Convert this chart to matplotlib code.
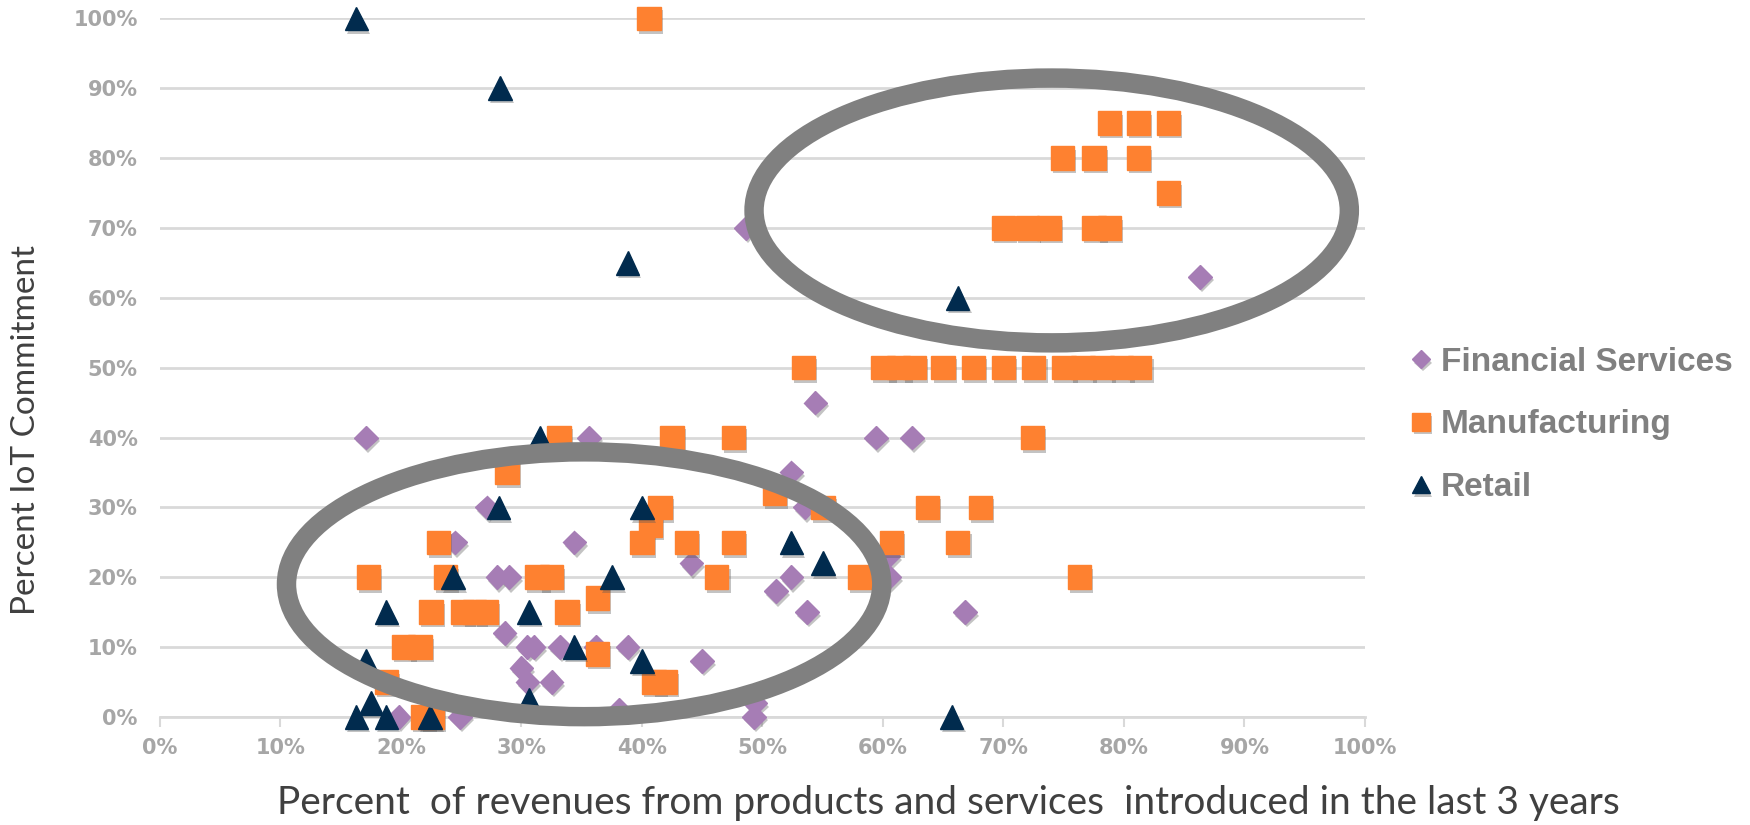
import numpy as np
import matplotlib
matplotlib.use("Agg")
import matplotlib.pyplot as plt
from matplotlib.patches import Ellipse
from matplotlib.ticker import FuncFormatter
import matplotlib.patheffects as pe

# percent of revenues from new products (x) vs percent IoT commitment (y)
fin_x = [17.1, 35.6, 27.1, 24.5, 34.4, 28.0, 29.0, 28.6, 30.5, 31.0, 33.2, 36.2,
         30.0, 30.5, 32.5, 19.8, 24.9, 54.4, 59.4, 62.4, 52.4, 53.5, 44.1, 60.4,
         60.5, 52.4, 51.1, 53.7, 38.8, 45.0, 38.1, 49.4, 49.3, 66.8, 48.6, 86.3]
fin_y = [40, 40, 30, 25, 25, 20, 20, 12, 10, 10, 10, 10,
         7, 5, 5, 0, 0, 45, 40, 40, 35, 30, 22, 23,
         20, 20, 18, 15, 10, 8, 1, 2, 0, 15, 70, 63]

mfg_x = [40.6, 78.8, 81.2, 83.7, 74.9, 77.5, 81.2, 83.7,
         70.0, 72.0, 73.8, 77.5, 78.8,
         53.4, 60.0, 61.3, 62.6, 65.0, 67.5, 70.0, 72.5, 75.0, 76.6, 78.2, 79.8, 81.3,
         33.1, 42.5, 47.6, 72.4, 28.8, 51.0, 55.0, 63.7, 68.1, 41.5, 40.7,
         23.1, 40.0, 43.7, 47.6, 60.7, 66.2,
         17.3, 23.7, 31.3, 32.5, 46.2, 58.1, 76.3, 36.3,
         22.5, 25.1, 26.1, 27.1, 33.8, 20.2, 21.6, 36.3,
         18.8, 41.0, 41.9, 21.8, 22.6]
mfg_y = [100, 85, 85, 85, 80, 80, 80, 75,
         70, 70, 70, 70, 70,
         50, 50, 50, 50, 50, 50, 50, 50, 50, 50, 50, 50, 50,
         40, 40, 40, 40, 35, 32, 30, 30, 30, 30, 27.5,
         25, 25, 25, 25, 25, 25,
         20, 20, 20, 20, 20, 20, 20, 17,
         15, 15, 15, 15, 15, 10, 10, 9,
         5, 5, 5, 0, 0]

ret_x = [16.3, 28.2, 38.8, 66.2, 31.5, 28.1, 40.0, 52.4, 24.3, 37.5, 55.0, 18.8,
         30.6, 34.4, 17.1, 40.0, 17.5, 30.6, 16.3, 18.8, 22.4, 65.7]
ret_y = [100, 90, 65, 60, 40, 30, 30, 25, 20, 20, 22, 15,
         15, 10, 8, 8, 2, 2.4, 0, 0, 0, 0]

fin_color = '#a67db5'
mfg_color = '#fe8130'
ret_color = '#012b4e'
tick_color = '#a6a6a6'

fig = plt.figure(figsize=(17.5, 8.25), dpi=100)
ax = fig.add_axes([0.0914, 0.1309, 0.6886, 0.8469])

shadow = [pe.SimplePatchShadow(offset=(1.5, -2.5), shadow_rgbFace='#555555', alpha=0.35), pe.Normal()]

ax.plot(fin_x, fin_y, 'D', ms=12, color=fin_color, mec=fin_color, label='Financial Services',
        path_effects=shadow, zorder=3, clip_on=False)
ax.plot(mfg_x, mfg_y, 's', ms=17, color=mfg_color, mec=mfg_color, label='Manufacturing',
        path_effects=shadow, zorder=4, clip_on=False)
ax.plot(ret_x, ret_y, '^', ms=17, color=ret_color, mec=ret_color, label='Retail',
        path_effects=shadow, zorder=5, clip_on=False)

# circled groups
for cx, cy in [(35.2, 19.0), (74.0, 72.5)]:
    ax.add_patch(Ellipse((cx, cy), 49.4, 37.9, fill=False, edgecolor='#808080',
                         lw=14, zorder=6, clip_on=False))

ax.set_xlim(0, 100)
ax.set_ylim(0, 100)
ax.set_xticks(np.arange(0, 101, 10))
ax.set_yticks(np.arange(0, 101, 10))
pct = FuncFormatter(lambda v, p: '%d%%' % v)
ax.xaxis.set_major_formatter(pct)
ax.yaxis.set_major_formatter(pct)

ax.grid(axis='y', color='#d9d9d9', lw=2)
ax.set_axisbelow(True)
for s in ['top', 'right', 'left']:
    ax.spines[s].set_visible(False)
ax.spines['bottom'].set_color('#d9d9d9')
ax.spines['bottom'].set_linewidth(2)

ax.tick_params(axis='y', length=0, pad=16, labelcolor=tick_color, labelsize=15)
ax.tick_params(axis='x', length=7, width=1.5, color='#d9d9d9', pad=8, labelcolor=tick_color, labelsize=15)
for lab in ax.get_xticklabels() + ax.get_yticklabels():
    lab.set_fontweight('bold')
    lab.set_family('DejaVu Sans')

fig.text(0.015, 0.479, 'Percent IoT Commitment', rotation=90, ha='center', va='center',
         fontsize=24, color='#404040', family='Lato')
fig.text(0.542, 0.027, 'Percent  of revenues from products and services  introduced in the last 3 years',
         ha='center', va='center', fontsize=28, color='#404040', family='Lato')

leg = ax.legend(loc='center left', bbox_to_anchor=(1.013, 0.418), frameon=False,
                prop={'family': 'Liberation Sans', 'weight': 'bold', 'size': 24},
                labelcolor='#808080', handlelength=0.6, handletextpad=0.3,
                labelspacing=0.95, markerscale=0.75)

fig.savefig('out.png', dpi=100)
